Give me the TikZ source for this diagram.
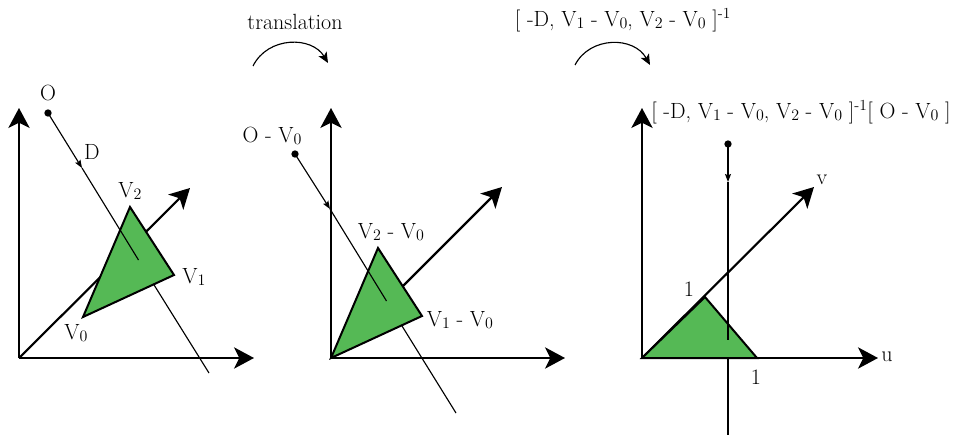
\documentclass[tikz,border=0pt]{standalone}
\usepackage{tikz}
\usetikzlibrary{arrows.meta,positioning,calc}
\definecolor{trigreen}{RGB}{85,185,85}
\newcommand{\ix}[1]{\raisebox{-0.25ex}{\fontsize{12}{13}\selectfont #1}}
\tikzset{
  axis/.style={-{Stealth[length=15pt,width=16pt,inset=4pt]},line width=1.6pt},
  tri/.style={draw,fill=trigreen,line width=1.5pt,line join=miter},
  ray/.style={line width=0.85pt},
  raymark/.style={ray,-{Stealth[length=6pt,width=4.5pt,inset=1pt]}},
  turn/.style={line width=0.85pt,-{Stealth[length=8pt,width=7pt,inset=2pt]}},
  lbl/.style={inner sep=0pt,font=\fontsize{16.5}{20}\selectfont},
  dot/.style={circle,fill,inner sep=0pt,minimum size=5.5pt},
}
\begin{document}
\begin{tikzpicture}[x=0.75pt,y=-0.75pt]
  \useasboundingbox (0,0) rectangle (961,435);
  % panel 1: world space
  \coordinate (A0) at (19,358);
  \coordinate (Ax) at (254,358);
  \coordinate (Ay) at (19,108);
  \coordinate (Ad) at (190,188);
  \coordinate (P0) at (83,317);
  \coordinate (P1) at (174,275);
  \coordinate (P2) at (130,207);
  \coordinate (Rm) at (82,168);
  \coordinate (Rh) at (138.5,260);
  \coordinate (Re) at (209,373);
  \draw[axis] (A0) -- (Ax);
  \draw[axis] (A0) -- (Ay);
  \draw[axis] (A0) -- (Ad);
  \draw[ray] (Rh) -- (Re);
  \filldraw[tri] (P0) -- (P1) -- (P2) -- cycle;
  \node[dot] (Ro) at (48,113) {};
  \draw[raymark] (Ro.center) -- (Rm);
  \draw[ray] (Rm) -- (Rh);
  \node[lbl] (lO)  at (48,93)  {O};
  \node[lbl] (lD)  at (92,152) {D};
  \node[lbl] (lV2) at (130,191) {V\ix{2}};
  \node[lbl] (lV1) at (194,277) {V\ix{1}};
  \node[lbl] (lV0) at (76,333)  {V\ix{0}};

  % panel 2: translated
  \coordinate (B0) at (331,358);
  \coordinate (Bx) at (565,358);
  \coordinate (By) at (331,108);
  \coordinate (Bd) at (502,187);
  \coordinate (Q1) at (422,316);
  \coordinate (Q2) at (378,248);
  \coordinate (Sm) at (330,209);
  \coordinate (Sh) at (386.5,301);
  \coordinate (Se) at (456,413);
  \draw[axis] (B0) -- (Bx);
  \draw[axis] (B0) -- (By);
  \draw[axis] (B0) -- (Bd);
  \draw[ray] (Sh) -- (Se);
  \filldraw[tri] (B0) -- (Q1) -- (Q2) -- cycle;
  \node[dot] (So) at (295,154) {};
  \draw[raymark] (So.center) -- (Sm);
  \draw[ray] (Sm) -- (Sh);
  \node[lbl] (lOV) at (272,136) {O - V\ix{0}};
  \node[lbl] (lQ2) at (391,232) {V\ix{2} - V\ix{0}};
  \node[lbl] (lQ1) at (460,320) {V\ix{1} - V\ix{0}};

  % panel 3: barycentric space
  \coordinate (C0) at (642,358);
  \coordinate (Cx) at (878,358);
  \coordinate (Cy) at (642,108);
  \coordinate (Cd) at (814,187);
  \coordinate (U1) at (757,358);
  \coordinate (V1) at (705,297);
  \coordinate (Tm) at (728,182);
  \coordinate (Th) at (728,340);
  \coordinate (Te) at (728,435);
  \draw[axis] (C0) -- (Cx);
  \draw[axis] (C0) -- (Cy);
  \draw[axis] (C0) -- (Cd);
  \draw[ray] (Th) -- (Te);
  \filldraw[tri] (C0) -- (U1) -- (V1) -- cycle;
  \node[dot] (To) at (728,144) {};
  \draw[raymark] (To.center) -- (Tm);
  \draw[ray] (Tm) -- (Th);
  \node[lbl] (lu)  at (887,357) {u};
  \node[lbl] (lv)  at (822,180) {v};
  \node[lbl] (l1v) at (689,289) {1};
  \node[lbl] (l1u) at (756,377) {1};
  \node[lbl,anchor=west] (lT) at (651,112)
    {[ -D, V\ix{1} - V\ix{0}, V\ix{2} - V\ix{0} ]\textsuperscript{-1}[ O - V\ix{0} ]};

  % transforms
  \node[lbl] (tr1) at (295,22) {translation};
  \coordinate (t1a) at (253,66);
  \coordinate (t1b) at (328,63);
  \draw[turn] (t1a) .. controls (268,36) and (312,36) .. (t1b);
  \node[lbl] (tr2) at (623,20)
    {[ -D, V\ix{1} - V\ix{0}, V\ix{2} - V\ix{0} ]\textsuperscript{-1}};
  \coordinate (t2a) at (575,65);
  \coordinate (t2b) at (650,65);
  \draw[turn] (t2a) .. controls (590,36) and (634,36) .. (t2b);
\end{tikzpicture}
\end{document}
